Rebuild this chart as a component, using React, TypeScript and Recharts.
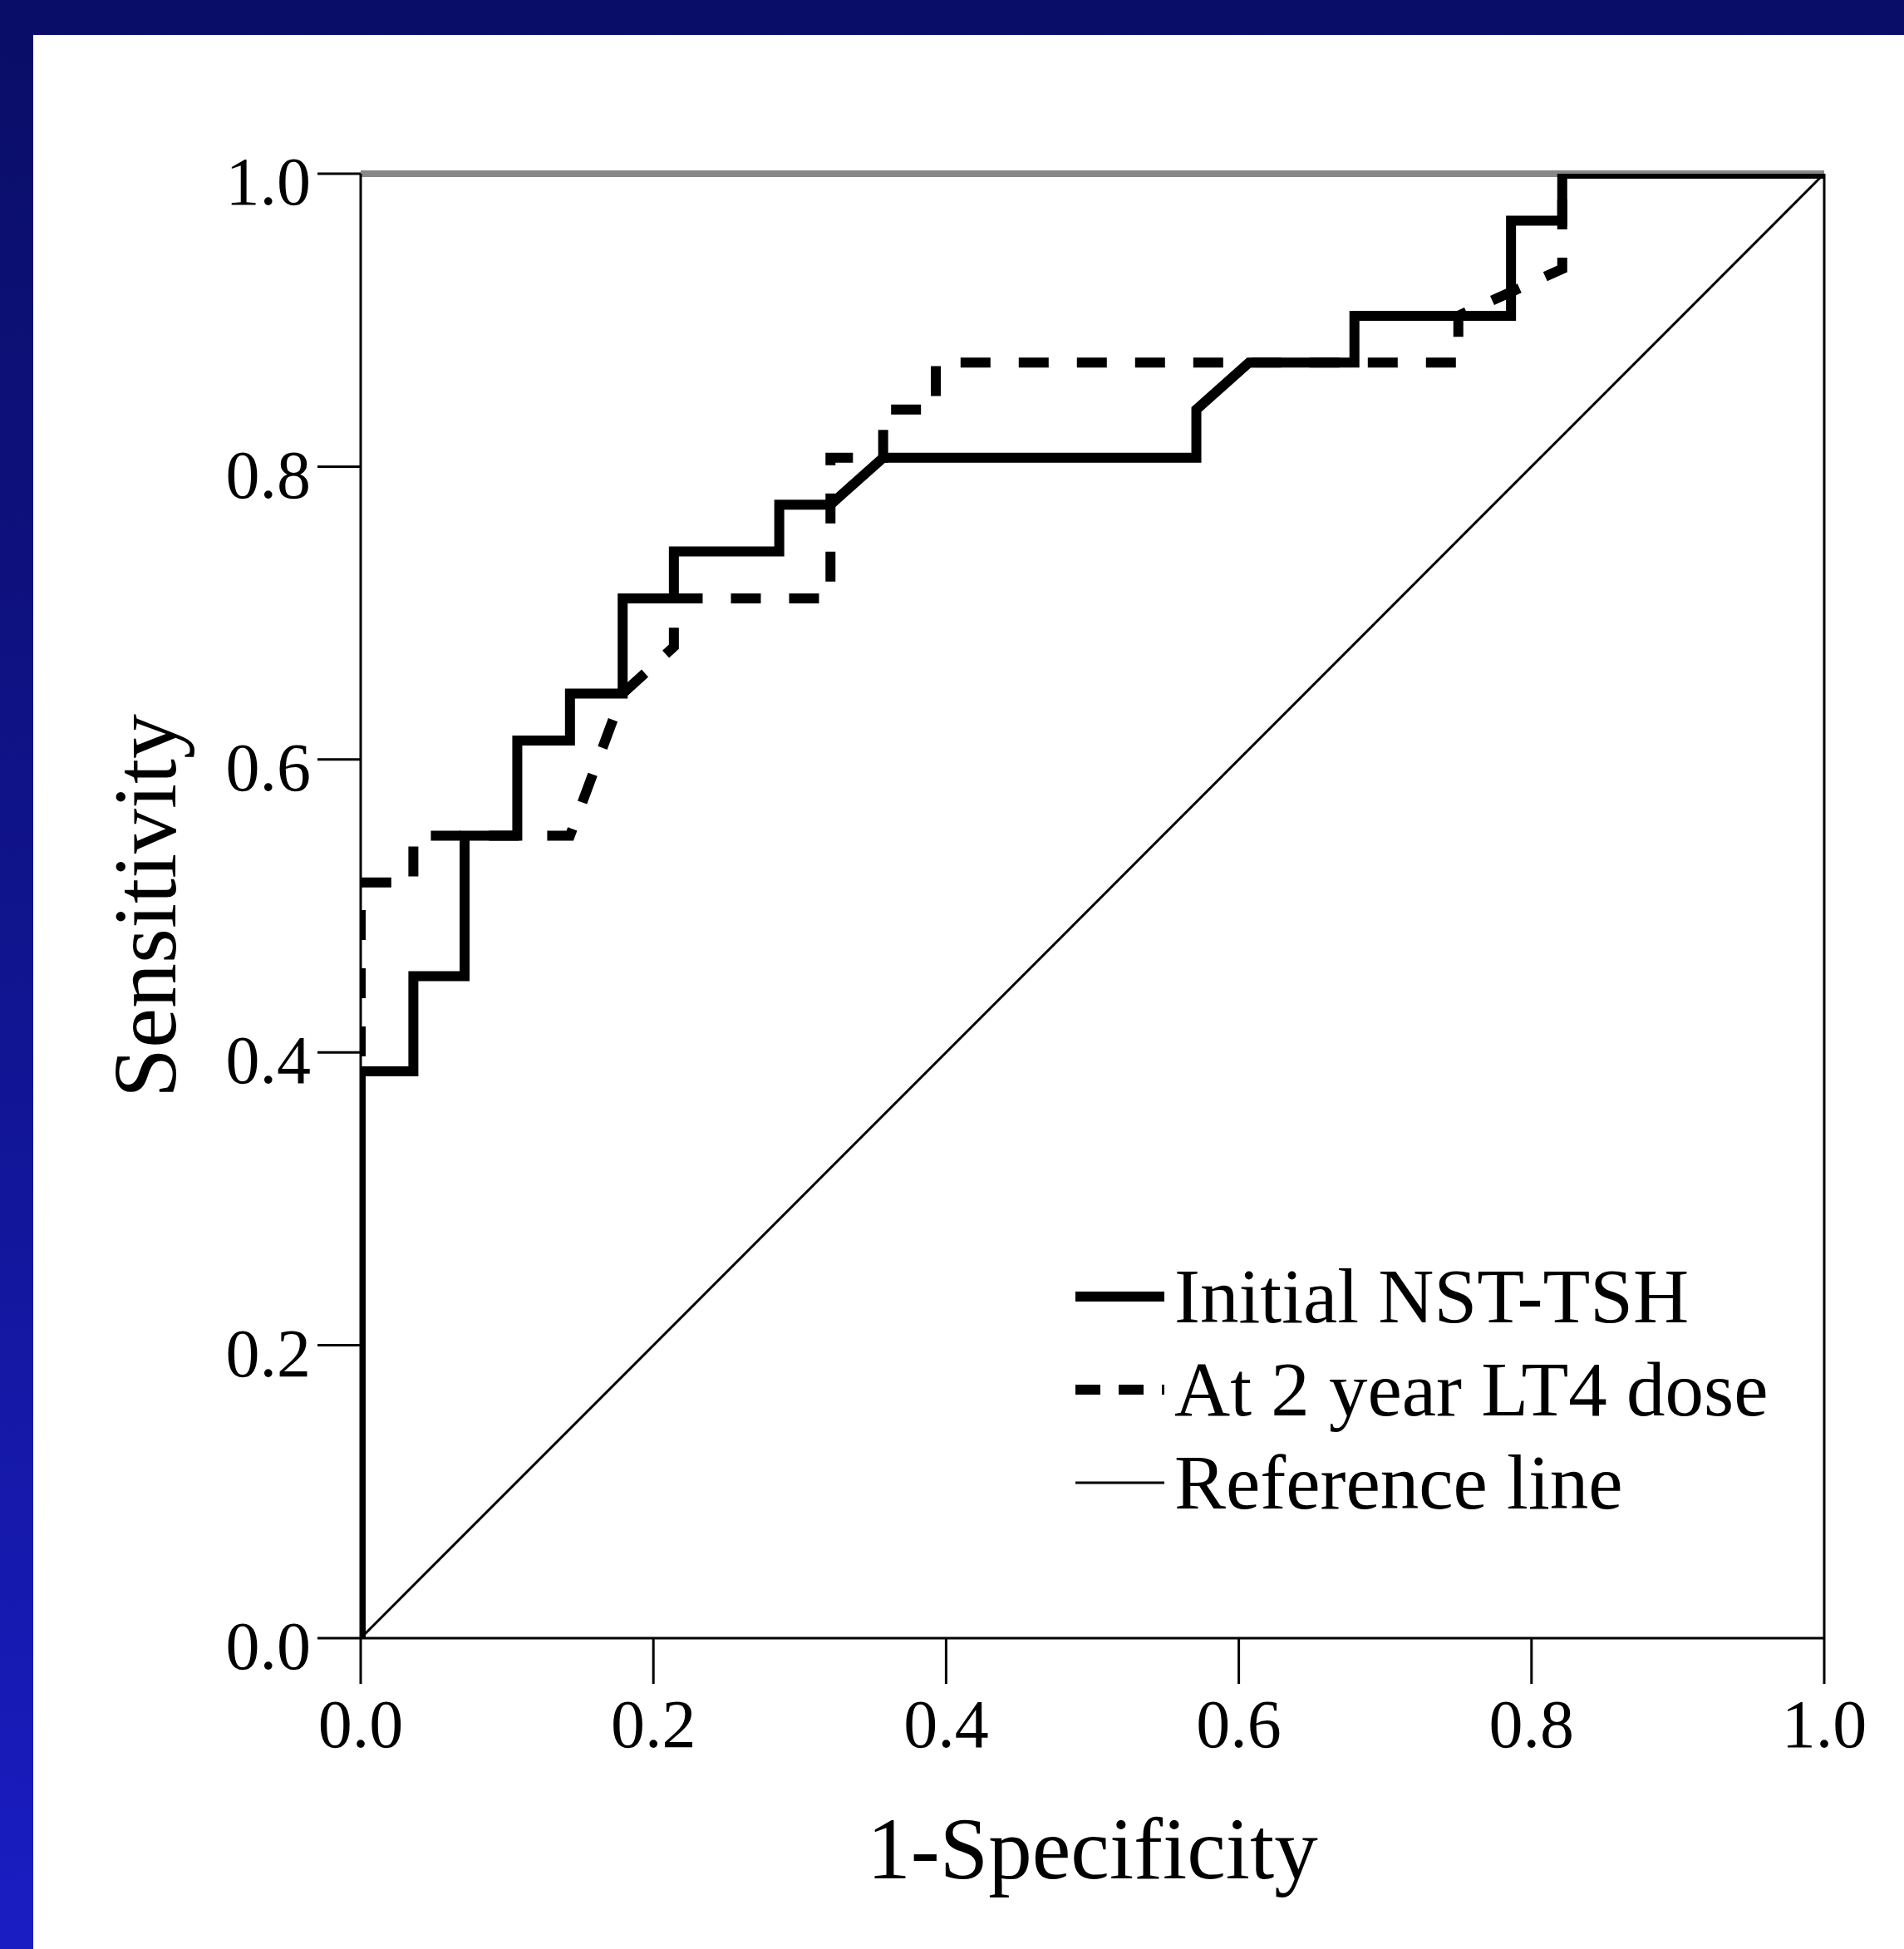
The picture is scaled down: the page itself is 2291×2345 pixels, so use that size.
import React from "react";
import {
  Legend,
  Line,
  LineChart,
  ReferenceLine,
  XAxis,
  YAxis,
} from "recharts";

// ROC curves: 1-Specificity (x) vs Sensitivity (y)
const initialFpr = [
  0, 0, 0.036, 0.036, 0.071, 0.071, 0.107, 0.107, 0.143, 0.143, 0.179, 0.179,
  0.214, 0.214, 0.286, 0.286, 0.321, 0.357, 0.571, 0.571, 0.607, 0.679, 0.679,
  0.786, 0.786, 0.821, 0.821, 1,
];
const initialTpr = [
  0, 0.387, 0.387, 0.452, 0.452, 0.548, 0.548, 0.613, 0.613, 0.645, 0.645,
  0.71, 0.71, 0.742, 0.742, 0.774, 0.774, 0.806, 0.806, 0.839, 0.871, 0.871,
  0.903, 0.903, 0.968, 0.968, 1, 1,
];

const doseFpr = [
  0, 0, 0.036, 0.036, 0.143, 0.179, 0.214, 0.214, 0.321, 0.321, 0.357, 0.357,
  0.393, 0.393, 0.75, 0.75, 0.821, 0.821, 1,
];
const doseTpr = [
  0, 0.516, 0.516, 0.548, 0.548, 0.645, 0.677, 0.71, 0.71, 0.806, 0.806, 0.839,
  0.839, 0.871, 0.871, 0.903, 0.935, 1, 1,
];

const refFpr = [0, 1];
const refTpr = [0, 1];

const ticks = [0, 0.2, 0.4, 0.6, 0.8, 1];

const seriesNames = ["Initial NST-TSH", "At 2 year LT4 dose", "Reference line"];

const zip = (xs: number[], ys: number[]) => xs.map((x, i) => ({ x, y: ys[i] }));

const initialData = zip(initialFpr, initialTpr);
const doseData = zip(doseFpr, doseTpr);
const refData = zip(refFpr, refTpr);

const FONT = "'Liberation Serif', 'Times New Roman', serif";

const W = 2291;
const H = 2345;

function YTitle(props: any) {
  const vb = props.viewBox || { y: 209, height: 1762 };
  const cx = 211;
  const cy = vb.y + vb.height / 2;
  return (
    <text
      x={cx}
      y={cy}
      transform={`rotate(-90 ${cx} ${cy})`}
      textAnchor="middle"
      fontFamily={FONT}
      fontSize={108}
      fill="#000"
    >
      Sensitivity
    </text>
  );
}

function XTitle(props: any) {
  const vb = props.viewBox || { x: 434, width: 1761 };
  return (
    <text
      x={vb.x + vb.width / 2}
      y={2260}
      textAnchor="middle"
      fontFamily={FONT}
      fontSize={105}
      fill="#000"
    >
      1-Specificity
    </text>
  );
}

function LegendBox() {
  const rows = [
    { name: seriesNames[0], width: 12, dash: undefined },
    { name: seriesNames[1], width: 12, dash: "30 22" },
    { name: seriesNames[2], width: 3, dash: undefined },
  ];
  return (
    <div style={{ fontFamily: FONT, fontSize: 93, color: "#000" }}>
      {rows.map((r) => (
        <div
          key={r.name}
          style={{ display: "flex", alignItems: "center", height: 112, lineHeight: "112px" }}
        >
          <svg width={107} height={30} style={{ marginRight: 12 }}>
            <line
              x1={0}
              x2={107}
              y1={15}
              y2={15}
              stroke="#000"
              strokeWidth={r.width}
              strokeDasharray={r.dash}
            />
          </svg>
          <span style={{ whiteSpace: "nowrap" }}>{r.name}</span>
        </div>
      ))}
    </div>
  );
}

export default function App() {
  return (
    <div
      style={{
        position: "absolute",
        left: 0,
        top: 0,
        width: W,
        height: H,
        background: "linear-gradient(to bottom, #0a0d66 0%, #10148f 50%, #1a1dc2 100%)",
        overflow: "hidden",
      }}
    >
      <div
        style={{
          position: "absolute",
          left: 40,
          top: 42,
          width: W - 40,
          height: H - 42,
          background: "#fff",
        }}
      />
      <div style={{ position: "absolute", left: 0, top: 0 }}>
        <LineChart
          width={W}
          height={H}
          margin={{ top: 209, right: 96, bottom: 74, left: 134 }}
        >
          <XAxis
            type="number"
            dataKey="x"
            domain={[0, 1]}
            ticks={ticks}
            tickFormatter={(v: number) => v.toFixed(1)}
            height={300}
            tickSize={55}
            tickMargin={18}
            axisLine={{ stroke: "#000", strokeWidth: 3 }}
            tickLine={{ stroke: "#000", strokeWidth: 3 }}
            tick={{ fill: "#000", fontFamily: FONT, fontSize: 82 }}
            allowDataOverflow
            label={<XTitle />}
          />
          <YAxis
            type="number"
            dataKey="y"
            domain={[0, 1]}
            ticks={ticks}
            tickFormatter={(v: number) => v.toFixed(1)}
            width={300}
            tickSize={52}
            tickMargin={8}
            axisLine={{ stroke: "#000", strokeWidth: 3 }}
            tickLine={{ stroke: "#000", strokeWidth: 3 }}
            tick={{ fill: "#000", fontFamily: FONT, fontSize: 82, dy: 8 }}
            allowDataOverflow
            label={<YTitle />}
          />
          <ReferenceLine y={1} stroke="#888" strokeWidth={8} />
          <ReferenceLine x={1} stroke="#000" strokeWidth={3} />
          <Line
            data={refData}
            dataKey="y"
            name={seriesNames[2]}
            type="linear"
            stroke="#000"
            strokeWidth={3}
            dot={false}
            isAnimationActive={false}
          />
          <Line
            data={doseData}
            dataKey="y"
            name={seriesNames[1]}
            type="linear"
            stroke="#000"
            strokeWidth={12}
            strokeDasharray="36 34"
            dot={false}
            isAnimationActive={false}
          />
          <Line
            data={initialData}
            dataKey="y"
            name={seriesNames[0]}
            type="linear"
            stroke="#000"
            strokeWidth={12}
            dot={false}
            isAnimationActive={false}
          />
          <Legend
            content={<LegendBox />}
            layout="horizontal"
            verticalAlign="middle"
            align="center"
            wrapperStyle={{ position: "absolute", left: 1294, top: 1504, width: "auto" }}
          />
        </LineChart>
      </div>
    </div>
  );
}
